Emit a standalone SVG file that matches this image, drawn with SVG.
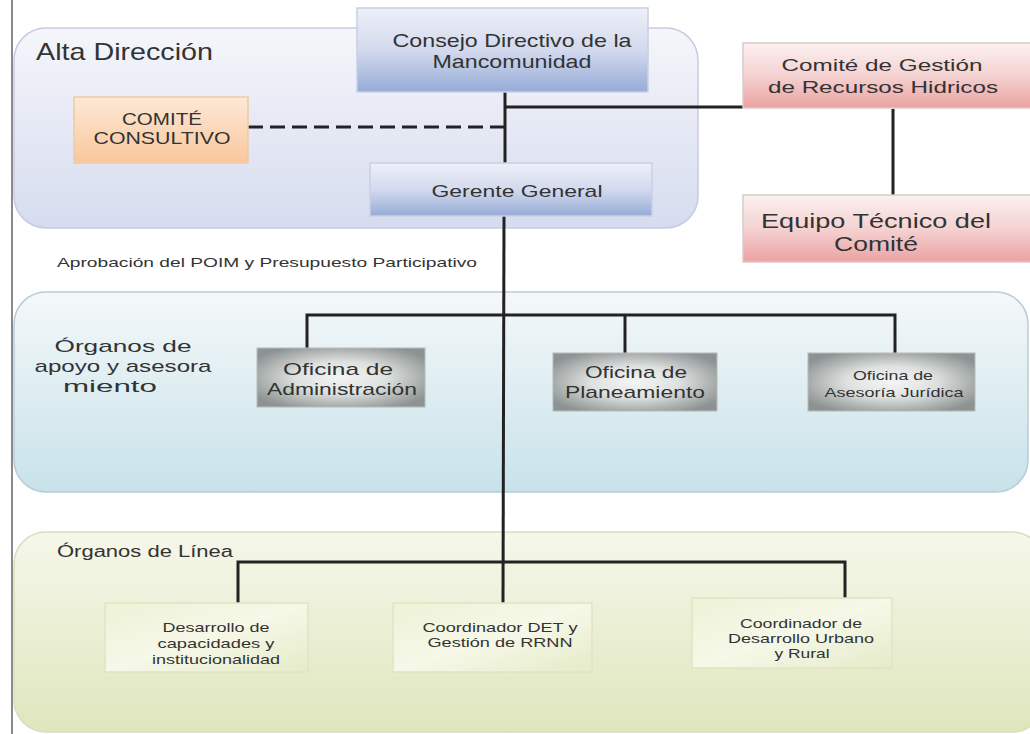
<svg xmlns="http://www.w3.org/2000/svg" width="1030" height="734" viewBox="0 0 1030 734">
<style>
text{font-family:"Liberation Sans",Arial,sans-serif;fill:#333;text-anchor:middle}
.lbl{text-anchor:start}
.ln{stroke:#222;stroke-width:3;fill:none}
</style>
<defs>
<linearGradient id="pA" x1="0" y1="0" x2="0" y2="1"><stop offset="0" stop-color="#f5f6fb"/><stop offset="1" stop-color="#d6dcef"/></linearGradient>
<linearGradient id="pB" x1="0" y1="0" x2="0" y2="1"><stop offset="0" stop-color="#f4f8f9"/><stop offset="1" stop-color="#c8e2ea"/></linearGradient>
<linearGradient id="pC" x1="0" y1="0" x2="0" y2="1"><stop offset="0" stop-color="#f6f7ea"/><stop offset="1" stop-color="#dfe6bd"/></linearGradient>
<linearGradient id="gBlue" x1="0" y1="0" x2="0" y2="1"><stop offset="0" stop-color="#eef0f8"/><stop offset="0.5" stop-color="#d3daee"/><stop offset="1" stop-color="#96abd6"/></linearGradient>
<linearGradient id="gOr" x1="0" y1="0" x2="0" y2="1"><stop offset="0" stop-color="#fde9d6"/><stop offset="1" stop-color="#f9c79c"/></linearGradient>
<linearGradient id="gPink" x1="0" y1="0" x2="0" y2="1"><stop offset="0" stop-color="#fbf0f0"/><stop offset="0.5" stop-color="#f5d2d2"/><stop offset="1" stop-color="#eba2a2"/></linearGradient>
<radialGradient id="gGray" cx="0.5" cy="0.5" r="0.6"><stop offset="0" stop-color="#f4f6f5"/><stop offset="0.45" stop-color="#dde1e0"/><stop offset="1" stop-color="#8d9392"/></radialGradient>
<linearGradient id="gGreen" x1="0" y1="0" x2="1" y2="1"><stop offset="0" stop-color="#eef2d6"/><stop offset="0.5" stop-color="#f6f8e8"/><stop offset="1" stop-color="#e6ebc8"/></linearGradient>
</defs>
<rect width="1030" height="734" fill="#ffffff"/>
<line x1="12" y1="0" x2="12" y2="734" stroke="#8a8a8a" stroke-width="2"/>

<g id="panel-alta">
<rect x="14" y="28" width="684" height="200" rx="32" fill="url(#pA)" stroke="#c6cce0" stroke-width="1.5"/>
<text class="lbl" x="36" y="60" font-size="24" textLength="177" lengthAdjust="spacingAndGlyphs">Alta Dirección</text>
</g>
<g id="panel-apoyo">
<rect x="14" y="292" width="1014" height="200" rx="32" fill="url(#pB)" stroke="#b9ccd8" stroke-width="1.5"/>
<text x="123" y="352" font-size="17" textLength="137" lengthAdjust="spacingAndGlyphs">Órganos de</text>
<text x="123" y="372" font-size="17" textLength="177" lengthAdjust="spacingAndGlyphs">apoyo y asesora</text>
<text x="110" y="392" font-size="17" textLength="94" lengthAdjust="spacingAndGlyphs">miento</text>
</g>
<g id="panel-linea">
<rect x="14" y="532" width="1030" height="200" rx="32" fill="url(#pC)" stroke="#d8dfbc" stroke-width="1.5"/>
<text class="lbl" x="57" y="557" font-size="16" textLength="176" lengthAdjust="spacingAndGlyphs">Órganos de Línea</text>
</g>

<text id="aprobacion" class="lbl" x="57" y="267" font-size="13.5" textLength="420" lengthAdjust="spacingAndGlyphs">Aprobación del POIM y Presupuesto Participativo</text>

<g id="connectors">
<line class="ln" x1="505" y1="92" x2="505" y2="163"/>
<line class="ln" x1="505" y1="107" x2="743" y2="107"/>
<line class="ln" x1="248" y1="127" x2="505" y2="127" stroke-dasharray="15 7"/>
<line class="ln" x1="893" y1="109" x2="893" y2="195"/>
<line class="ln" x1="504" y1="216" x2="503" y2="603"/>
<polyline class="ln" points="307,348 307,315 895,315 895,353"/>
<line class="ln" x1="625" y1="315" x2="625" y2="353"/>
<polyline class="ln" points="238,604 238,562 845,562 845,598"/>
</g>

<g id="consejo">
<rect x="357" y="8" width="291" height="84" fill="url(#gBlue)" stroke="#c9d0e4" stroke-width="1.5"/>
<text x="512" y="47" font-size="19" textLength="239" lengthAdjust="spacingAndGlyphs">Consejo Directivo de la</text>
<text x="512" y="68" font-size="19" textLength="159" lengthAdjust="spacingAndGlyphs">Mancomunidad</text>
</g>
<g id="gerente">
<rect x="370" y="163" width="282" height="53" fill="url(#gBlue)" stroke="#c9d0e4" stroke-width="1.5"/>
<text x="517" y="197" font-size="17" textLength="171" lengthAdjust="spacingAndGlyphs">Gerente General</text>
</g>
<g id="comite-consultivo">
<rect x="74" y="97" width="174" height="66" fill="url(#gOr)" stroke="#f0c9a6" stroke-width="1.5"/>
<text x="162" y="125" font-size="17" textLength="80" lengthAdjust="spacingAndGlyphs">COMITÉ</text>
<text x="162" y="144" font-size="17" textLength="137" lengthAdjust="spacingAndGlyphs">CONSULTIVO</text>
</g>
<g id="comite-gestion">
<rect x="743" y="43" width="290" height="65" fill="url(#gPink)" stroke="#d8cccc" stroke-width="1.5"/>
<text x="882" y="71" font-size="17" textLength="201" lengthAdjust="spacingAndGlyphs">Comité de Gestión</text>
<text x="883" y="93" font-size="17" textLength="230" lengthAdjust="spacingAndGlyphs">de Recursos Hidricos</text>
</g>
<g id="equipo-tecnico">
<rect x="743" y="195" width="290" height="67" fill="url(#gPink)" stroke="#d8cccc" stroke-width="1.5"/>
<text x="876" y="228" font-size="21" textLength="230" lengthAdjust="spacingAndGlyphs">Equipo Técnico del</text>
<text x="876" y="251" font-size="21" textLength="84" lengthAdjust="spacingAndGlyphs">Comité</text>
</g>

<g id="oficina-administracion">
<rect x="257" y="348" width="168" height="59" fill="url(#gGray)" stroke="#b5bab9" stroke-width="1"/>
<text x="338" y="375" font-size="17" textLength="110" lengthAdjust="spacingAndGlyphs">Oficina de</text>
<text x="342" y="395" font-size="17" textLength="150" lengthAdjust="spacingAndGlyphs">Administración</text>
</g>
<g id="oficina-planeamiento">
<rect x="553" y="353" width="164" height="58" fill="url(#gGray)" stroke="#b5bab9" stroke-width="1"/>
<text x="636" y="378" font-size="17" textLength="102" lengthAdjust="spacingAndGlyphs">Oficina de</text>
<text x="635" y="398" font-size="17" textLength="140" lengthAdjust="spacingAndGlyphs">Planeamiento</text>
</g>
<g id="oficina-juridica">
<rect x="808" y="353" width="167" height="58" fill="url(#gGray)" stroke="#b5bab9" stroke-width="1"/>
<text x="893" y="380" font-size="13" textLength="80" lengthAdjust="spacingAndGlyphs">Oficina de</text>
<text x="894" y="397" font-size="13" textLength="139" lengthAdjust="spacingAndGlyphs">Asesoría Jurídica</text>
</g>

<g id="desarrollo-capacidades">
<rect x="105" y="603" width="203" height="69" fill="url(#gGreen)" stroke="#e0e5c4" stroke-width="1.5"/>
<text x="216" y="632" font-size="13.5" textLength="107" lengthAdjust="spacingAndGlyphs">Desarrollo de</text>
<text x="216" y="648" font-size="13.5" textLength="117" lengthAdjust="spacingAndGlyphs">capacidades y</text>
<text x="216" y="664" font-size="13.5" textLength="128" lengthAdjust="spacingAndGlyphs">institucionalidad</text>
</g>
<g id="coordinador-det">
<rect x="393" y="603" width="199" height="69" fill="url(#gGreen)" stroke="#e0e5c4" stroke-width="1.5"/>
<text x="500" y="632" font-size="13.5" textLength="155" lengthAdjust="spacingAndGlyphs">Coordinador DET y</text>
<text x="500" y="647" font-size="13.5" textLength="145" lengthAdjust="spacingAndGlyphs">Gestión de RRNN</text>
</g>
<g id="coordinador-urbano">
<rect x="692" y="598" width="200" height="70" fill="url(#gGreen)" stroke="#e0e5c4" stroke-width="1.5"/>
<text x="801" y="628" font-size="13.5" textLength="122" lengthAdjust="spacingAndGlyphs">Coordinador de</text>
<text x="801" y="643" font-size="13.5" textLength="146" lengthAdjust="spacingAndGlyphs">Desarrollo Urbano</text>
<text x="802" y="658" font-size="13.5" textLength="55" lengthAdjust="spacingAndGlyphs">y Rural</text>
</g>
</svg>
